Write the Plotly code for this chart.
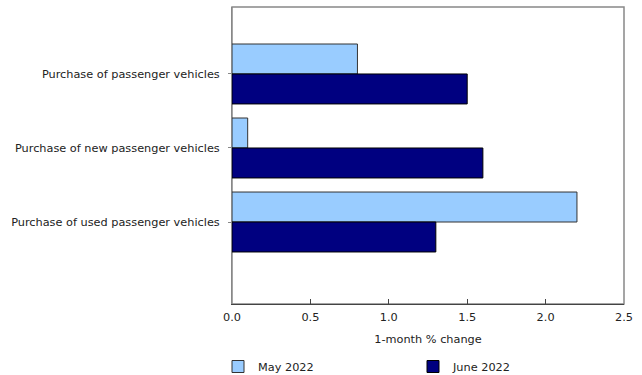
import plotly.graph_objects as go

categories = ["Purchase of passenger vehicles",
              "Purchase of new passenger vehicles",
              "Purchase of used passenger vehicles"]
may_2022 = [0.8, 0.1, 2.2]
june_2022 = [1.5, 1.6, 1.3]
x_ticks = [0.0, 0.5, 1.0, 1.5, 2.0, 2.5]

font = "DejaVu Sans, Verdana, sans-serif"

fig = go.Figure()
fig.add_trace(go.Bar(y=categories, x=may_2022, orientation="h", name="May 2022",
                     legend="legend",
                     marker=dict(color="#99CCFF", line=dict(color="#333333", width=1))))
fig.add_trace(go.Bar(y=categories, x=june_2022, orientation="h", name="June 2022",
                     legend="legend2",
                     marker=dict(color="#000080", line=dict(color="#000000", width=1))))

leg_common = dict(orientation="h", xref="container", yref="container",
                  xanchor="left", y=1 - 352 / 375, yanchor="top",
                  font=dict(size=11.3), itemwidth=30, bgcolor="rgba(0,0,0,0)")

fig.update_layout(
    width=642, height=375,
    margin=dict(l=232, r=18, t=7, b=71, autoexpand=False),
    paper_bgcolor="white", plot_bgcolor="white",
    barmode="group", bargap=0.19, bargroupgap=0,
    font=dict(family=font, size=11.3, color="#222222"),
    showlegend=True,
    legend=dict(x=218 / 642, **leg_common),
    legend2=dict(x=413 / 642, **leg_common),
    xaxis=dict(range=[0, 2.5], tickvals=x_ticks, ticktext=[f"{v:.1f}" for v in x_ticks],
               showgrid=False, zeroline=False, showline=True, linecolor="#444444", linewidth=1,
               ticks="inside", ticklen=5, tickcolor="#444444", automargin=False,
               ticklabelstandoff=2,
               title=dict(text="1-month % change", font=dict(size=11.3), standoff=12),
               fixedrange=True),
    yaxis=dict(type="category", range=[3.108, -0.905], showgrid=False, zeroline=False,
               showline=True, linecolor="#888888", linewidth=1, automargin=False,
               ticks="outside", ticklen=3, tickcolor="#888888", ticklabelstandoff=6,
               fixedrange=True),
)
fig.add_shape(type="rect", xref="paper", yref="paper", x0=0, x1=1, y0=0, y1=1,
              line=dict(color="#888888", width=1.5), layer="below")
fig.write_html("out.html", config={"displayModeBar": False},
               post_script="document.body.style.margin='0';")
